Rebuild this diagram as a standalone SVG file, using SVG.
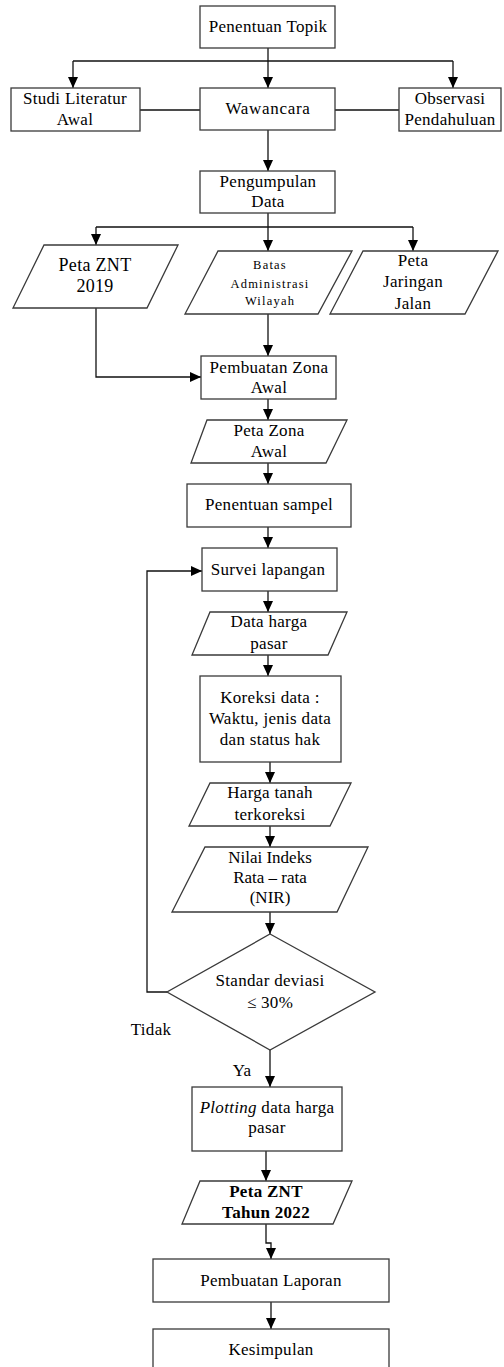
<svg xmlns="http://www.w3.org/2000/svg" width="504" height="1367" viewBox="0 0 504 1367">
<defs>
<marker id="ah" markerUnits="userSpaceOnUse" markerWidth="12" markerHeight="12" viewBox="0 0 12 12" refX="11" refY="6" orient="auto">
<path d="M0,1 L11,6 L0,11 Z" fill="#000"/>
</marker>
<style>
.box{fill:#fff;stroke:#3a3a3a;stroke-width:1.3}
.c{fill:none;stroke:#111;stroke-width:1.3}
.a{marker-end:url(#ah)}
text{font-size:17px;fill:#000;text-anchor:middle;letter-spacing:0.3px}
.sm{font-size:12.5px;letter-spacing:1.2px}
.lg{font-size:18px;letter-spacing:0.3px}
.b{font-weight:bold}
</style>
</defs>
<rect width="504" height="1367" fill="#fff"/>

<g id="connectors">
<path class="c a" d="M268,48 V88"/>
<path class="c" d="M73,61 H453"/>
<path class="c a" d="M73,61 V88"/>
<path class="c a" d="M453,61 V88"/>
<path class="c" d="M140,110 H200 M335,110 H399"/>
<path class="c a" d="M268,130 V171"/>
<path class="c" d="M268,213 V227 M96,227 H413"/>
<path class="c a" d="M96,227 V245"/>
<path class="c a" d="M268,227 V251"/>
<path class="c a" d="M413,227 V251"/>
<path class="c a" d="M96,308 V377 H201"/>
<path class="c a" d="M268,314 V356"/>
<path class="c a" d="M268,399 V420"/>
<path class="c a" d="M268,463 V484"/>
<path class="c a" d="M268,527 V548"/>
<path class="c a" d="M268,591 V612"/>
<path class="c a" d="M268,655 V676"/>
<path class="c a" d="M270,762 V783"/>
<path class="c a" d="M270,826 V847"/>
<path class="c a" d="M270,912 V934"/>
<path class="c a" d="M270,1050 V1087"/>
<path class="c a" d="M167,992 H147 V571 H202"/>
<path class="c a" d="M266,1151 V1181"/>
<path class="c a" d="M266,1224 V1243 H271 V1259"/>
<path class="c a" d="M271,1302 V1329"/>
</g>

<g font-family="'Liberation Serif', 'DejaVu Serif', 'Times New Roman', serif">
<g id="n-topik"><rect class="box" x="200" y="6" width="135" height="42"/><text x="268" y="32">Penentuan Topik</text></g>
<g id="n-studi"><rect class="box" x="11" y="88" width="129" height="43"/><text x="75" y="104">Studi Literatur</text><text x="75" y="125">Awal</text></g>
<g id="n-wawancara"><rect class="box" x="200" y="88" width="135" height="42"/><text x="268" y="114" style="letter-spacing:0.7px">Wawancara</text></g>
<g id="n-observasi"><rect class="box" x="399" y="88" width="102" height="43"/><text x="450" y="104">Observasi</text><text x="450" y="125">Pendahuluan</text></g>
<g id="n-pengumpulan"><rect class="box" x="200" y="171" width="135" height="42"/><text x="268" y="187">Pengumpulan</text><text x="268" y="207">Data</text></g>
<g id="n-znt2019"><polygon class="box" points="44,245 178,245 147,308 13,308"/><text class="lg" x="95" y="271">Peta ZNT</text><text class="lg" x="95" y="292">2019</text></g>
<g id="n-batas"><polygon class="box" points="218,251 352,251 318,314 185,314"/><text class="sm" x="270" y="269">Batas</text><text class="sm" x="270" y="288">Administrasi</text><text class="sm" x="270" y="305">Wilayah</text></g>
<g id="n-jalan"><polygon class="box" points="363,251 498,251 465,314 330,314"/><text class="lg" x="413" y="266" style="font-size:17px">Peta</text><text class="lg" x="413" y="287" style="font-size:17px">Jaringan</text><text class="lg" x="413" y="309" style="font-size:17px">Jalan</text></g>
<g id="n-zonaawal"><rect class="box" x="201" y="356" width="135" height="43"/><text x="269" y="373">Pembuatan Zona</text><text x="269" y="393">Awal</text></g>
<g id="n-petazona"><polygon class="box" points="207,420 347,420 326,463 191,463"/><text x="269" y="436">Peta Zona</text><text x="269" y="457">Awal</text></g>
<g id="n-sampel"><rect class="box" x="187" y="484" width="164" height="43"/><text x="269" y="510">Penentuan sampel</text></g>
<g id="n-survei"><rect class="box" x="202" y="548" width="135" height="43"/><text x="268" y="575">Survei lapangan</text></g>
<g id="n-dataharga"><polygon class="box" points="210,612 347,612 328,655 192,655"/><text x="269" y="627">Data harga</text><text x="269" y="649">pasar</text></g>
<g id="n-koreksi"><rect class="box" x="200" y="676" width="141" height="86"/><text x="270" y="703">Koreksi data :</text><text x="270" y="724">Waktu, jenis data</text><text x="270" y="745">dan status hak</text></g>
<g id="n-hargatanah"><polygon class="box" points="210,783 351,783 330,826 189,826"/><text x="270" y="798">Harga tanah</text><text x="270" y="820">terkoreksi</text></g>
<g id="n-nir"><polygon class="box" points="205,847 368,847 337,912 172,912"/><text x="270" y="863" style="letter-spacing:0">Nilai Indeks</text><text x="270" y="883" style="letter-spacing:0">Rata – rata</text><text x="270" y="903" style="letter-spacing:0">(NIR)</text></g>
<g id="n-std"><polygon class="box" points="270,934 375,992 270,1050 167,992"/><text x="270" y="986">Standar deviasi</text><text x="270" y="1008">≤ 30%</text></g>
<g id="lbl-tidak"><text x="151" y="1035">Tidak</text></g>
<g id="lbl-ya"><text x="242" y="1076">Ya</text></g>
<g id="n-plotting"><rect class="box" x="192" y="1087" width="150" height="64"/><text x="267" y="1113"><tspan font-style="italic">Plotting</tspan> data harga</text><text x="267" y="1133">pasar</text></g>
<g id="n-znt2022"><polygon class="box" points="200,1181 352,1181 333,1224 182,1224"/><text class="b" x="266" y="1197">Peta ZNT</text><text class="b" x="266" y="1218">Tahun 2022</text></g>
<g id="n-laporan"><rect class="box" x="153" y="1259" width="236" height="43"/><text x="271" y="1286">Pembuatan Laporan</text></g>
<g id="n-kesimpulan"><rect class="box" x="153" y="1329" width="236" height="45"/><text x="271" y="1355">Kesimpulan</text></g>
</g>
</svg>
